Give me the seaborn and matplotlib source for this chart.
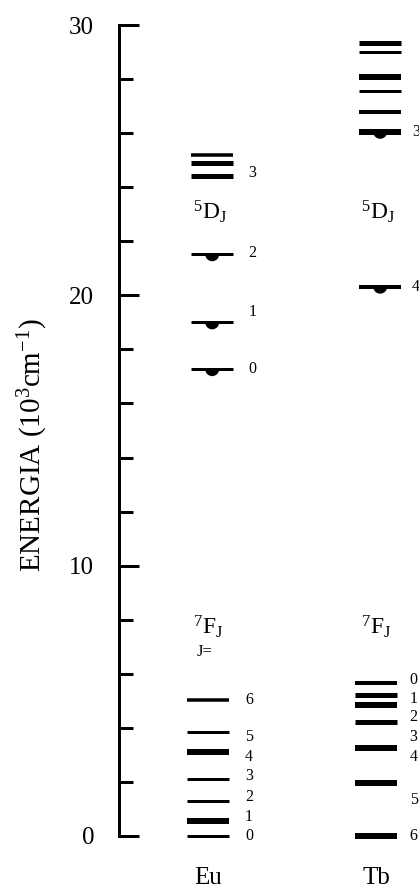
import numpy as np
import pandas as pd
import seaborn as sns
import matplotlib.pyplot as plt
from matplotlib.path import Path
from matplotlib.ticker import MultipleLocator

# --- energy levels (10^3 cm^-1) ---
ions = ["Eu", "Tb"]

eu_7f = [0.0, 0.55, 1.29, 2.11, 3.10, 3.86, 5.03]
eu_7f_labels = ["0", "1", "2", "3", "4", "5", "6"]
eu_7f_label_pos = [0.0, 0.71, 1.45, 2.23, 2.93, 3.66, 5.03]

eu_5d = [17.27, 19.00, 21.52, 24.42, 24.90, 25.20]
eu_5d_marked = [17.27, 19.00, 21.52]
eu_5d_labels = ["0", "1", "2", "3"]
eu_5d_label_pos = [17.27, 19.39, 21.57, 24.53]

tb_7f = [0.0, 1.97, 3.24, 4.23, 4.85, 5.22, 5.65]
tb_7f_labels = ["6", "5", "4", "3", "2", "1", "0"]
tb_7f_label_pos = [0.0, 1.33, 2.92, 3.66, 4.40, 5.07, 5.77]

tb_5d = [20.32, 26.05, 26.80, 27.57, 28.07, 29.00, 29.35]
tb_5d_marked = [20.32, 26.05]
tb_5d_labels = ["4", "3"]
tb_5d_label_pos = [20.32, 26.05]

# line weights (px) for each level, drawn in the same order as above
eu_7f_w = [3, 6, 3, 3, 6, 3, 3.5]
eu_5d_w = [3, 3, 3, 5, 5, 3.5]
tb_7f_w = [6, 6, 6, 5, 6, 5, 4]
tb_5d_w = [4, 6, 4, 3, 6, 3, 5]

sns.set_theme(style="ticks")
plt.rcParams["font.family"] = ["Liberation Serif", "DejaVu Serif"]
plt.rcParams["mathtext.fontset"] = "custom"
plt.rcParams["mathtext.rm"] = "Liberation Serif"
plt.rcParams["mathtext.it"] = "Liberation Serif:italic"
for key in ["text.color", "axes.labelcolor", "xtick.color", "ytick.color", "axes.edgecolor"]:
    plt.rcParams[key] = "black"

W, H, DPI = 419, 892, 100
fig = plt.figure(figsize=(W / DPI, H / DPI), dpi=DPI)
ax_left, ax_right, ax_bot, ax_top = 119, 419, 836, 25
ax = fig.add_axes([ax_left / W, (H - ax_bot) / H,
                   (ax_right - ax_left) / W, (ax_bot - ax_top) / H])

px = 72 / DPI  # points per pixel
xpos = {ion: i for i, ion in enumerate(ions)}
half = 0.125
upper_shift = 0.025

rows = []
for ion, lv, ws, shift in [("Eu", eu_7f, eu_7f_w, 0.0), ("Eu", eu_5d, eu_5d_w, upper_shift),
                           ("Tb", tb_7f, tb_7f_w, 0.0), ("Tb", tb_5d, tb_5d_w, upper_shift)]:
    for e, w in zip(lv, ws):
        rows.append(dict(ion=ion, energy=e, weight=w, x=xpos[ion] + shift))
levels = pd.DataFrame(rows)

for _, r in levels.iterrows():
    ax.hlines(r.energy, r.x - half, r.x + half, color="black",
              linewidth=r.weight * px, capstyle="butt", clip_on=False)

# half-disc marker hanging under the emitting levels
arc = Path.arc(180, 360)
half_disc = Path(np.vstack([arc.vertices, arc.vertices[:1]]),
                 np.concatenate([arc.codes, [Path.CLOSEPOLY]]))
marks = pd.DataFrame(
    [dict(ion="Eu", energy=e, x=xpos["Eu"] + upper_shift) for e in eu_5d_marked] +
    [dict(ion="Tb", energy=e, x=xpos["Tb"] + upper_shift) for e in tb_5d_marked])
sns.scatterplot(data=marks, x="x", y="energy", marker=half_disc, s=(14 * px) ** 2,
                color="black", edgecolor="none", linewidth=0, ax=ax, legend=False, zorder=3)

small = 11.5
for ion, labs, pos, dx in [("Eu", eu_7f_labels, eu_7f_label_pos, 0.22),
                           ("Eu", eu_5d_labels, eu_5d_label_pos, 0.24),
                           ("Tb", tb_7f_labels, tb_7f_label_pos, 0.20),
                           ("Tb", tb_5d_labels, tb_5d_label_pos, 0.215)]:
    for t, y in zip(labs, pos):
        ax.text(xpos[ion] + dx, y, t, ha="left", va="center", fontsize=small, clip_on=False)

for ion in ions:
    ax.text(xpos[ion] + 0.01, 23.1, r"$^{5}\mathrm{D}_\mathrm{J}$", ha="center", va="center", fontsize=17)
    ax.text(xpos[ion] + 0.0, 7.73, r"$^{7}\mathrm{F}_\mathrm{J}$", ha="center", va="center", fontsize=17)
ax.text(xpos["Eu"] - 0.02, 6.82, "J=", ha="center", va="center", fontsize=12)

ax.set_xlim(-(208 - ax_left) / 168, (ax_right - 208) / 168)
ax.set_ylim(0, 30)
ax.set_xticks([xpos[i] for i in ions])
ax.set_xticklabels(ions, fontsize=18)
ax.tick_params(axis="x", length=0, pad=22)
ax.set_xlabel("")
ax.yaxis.set_major_locator(MultipleLocator(10))
ax.yaxis.set_minor_locator(MultipleLocator(2))
ax.tick_params(axis="y", which="major", direction="in", length=20 * px, width=3 * px,
               labelsize=18, pad=25 * px, color="black")
ax.tick_params(axis="y", which="minor", direction="in", length=14 * px, width=3 * px, color="black")
for s in ["top", "right", "bottom"]:
    ax.spines[s].set_visible(False)
ax.spines["left"].set_linewidth(3 * px)
ax.spines["left"].set_color("black")
ax.set_ylabel(r"ENERGIA (10$^{3}$cm$^{-1}$)", fontsize=21, va="center")
ax.yaxis.set_label_coords((33 - ax_left) / (ax_right - ax_left), (ax_bot - 445) / (ax_bot - ax_top))
ax.patch.set_alpha(0)

fig.savefig("out.png", dpi=DPI)
